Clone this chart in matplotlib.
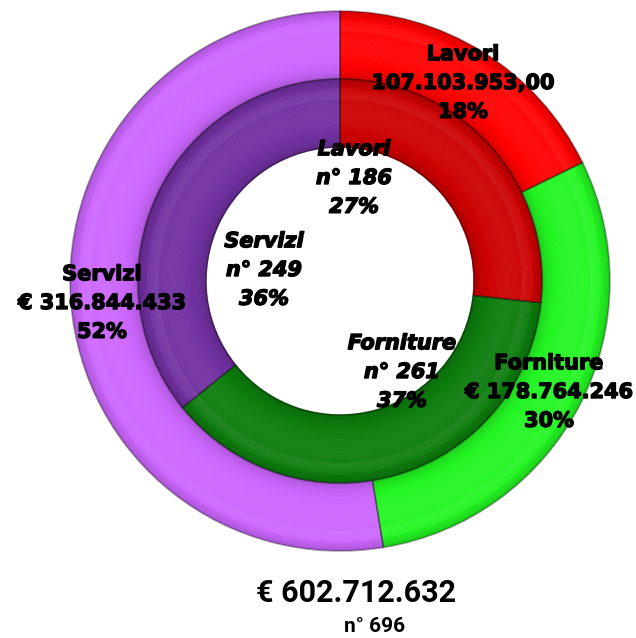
import matplotlib.pyplot as plt
import matplotlib.colors as mcolors
import matplotlib.patheffects as pe
import numpy as np

categories = ['Lavori', 'Forniture', 'Servizi']
importi = [107103953.00, 178764246, 316844433]
importi_label = ['107.103.953,00', '€ 178.764.246', '€ 316.844.433']
importi_pct = ['18%', '30%', '52%']
numeri = [186, 261, 249]
numeri_pct = ['27%', '37%', '36%']
totale_importo = '€ 602.712.632'
totale_numero = 'n° 696'

outer_colors = ['#ff0000', '#22f522', '#cc66ff']
inner_colors = ['#cc0000', '#0c7c0c', '#7030a0']

W, H = 636, 638
CX, CY = 340, H - 281
R_OUT, R_IN, RING_W = 270, 202, 68


def shade(color, m):
    rgb = np.array(mcolors.to_rgb(color))
    if m < 1:
        return tuple(rgb * m)
    return tuple(rgb + (1 - rgb) * (m - 1))


def draw_ring(ax, values, colors, radius, width, steps=30):
    # bevelled look: darker at the rims, a bit lighter near the middle
    for k in range(steps):
        t = (k + 0.5) / steps
        m = 0.72 + 0.33 * np.sin(np.pi * t) ** 0.35
        if 0.12 < t < 0.3:
            m += 0.06
        sub_colors = [shade(c, min(m, 1.08)) for c in colors]
        ax.pie(values, colors=sub_colors, startangle=90, counterclock=False,
               center=(CX, CY), radius=radius - k * width / steps,
               wedgeprops=dict(width=width / steps + 0.6, linewidth=0))
    ax.pie(values, colors=['none'] * len(values), startangle=90,
           counterclock=False, center=(CX, CY), radius=radius,
           wedgeprops=dict(width=width, linewidth=1.2,
                           edgecolor=(0, 0, 0, 0.3), fill=False))


fig = plt.figure(figsize=(W / 100, H / 100), dpi=100)
ax = fig.add_axes([0, 0, 1, 1])

draw_ring(ax, importi, outer_colors, R_OUT, RING_W)
draw_ring(ax, numeri, inner_colors, R_IN, RING_W)

ax.set_xlim(0, W)
ax.set_ylim(0, H)
ax.set_aspect('equal')
ax.axis('off')

heavy = [pe.withStroke(linewidth=1.0, foreground='black')]
label_font = dict(family='DejaVu Sans', fontweight='bold', fontsize=15,
                  color='black', ha='center', va='center', linespacing=1.55,
                  path_effects=heavy)

outer_pos = [(463, 83), (549, 392), (102, 303)]
inner_pos = [(354, 178), (402, 372), (264, 270)]

for i, cat in enumerate(categories):
    x, y = outer_pos[i]
    ax.text(x, H - y, f'{cat}\n{importi_label[i]}\n{importi_pct[i]}', **label_font)
    x, y = inner_pos[i]
    ax.text(x, H - y, f'{cat}\nn° {numeri[i]}\n{numeri_pct[i]}',
            style='italic', **label_font)

ax.text(356, H - 593, totale_importo, family='Roboto', fontweight='bold',
        fontsize=22, ha='center', va='center')
ax.text(375, H - 626, totale_numero, family='Roboto', fontweight='bold',
        fontsize=15, ha='center', va='center')

fig.savefig('out.png', dpi=100)
